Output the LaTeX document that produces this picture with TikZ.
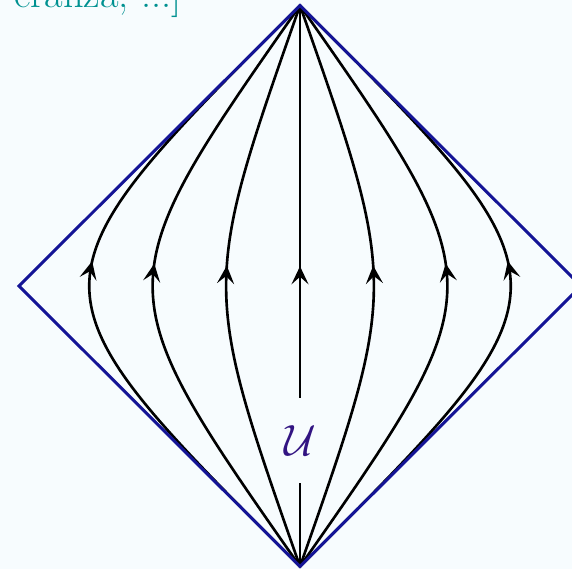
\documentclass[tikz,border=0pt]{standalone}
\usetikzlibrary{arrows.meta, decorations.markings}
\definecolor{bgpaper}{RGB}{247,252,254}
\definecolor{edgeblue}{RGB}{20,20,150}
\definecolor{labelteal}{RGB}{0,145,145}
\definecolor{labelviolet}{RGB}{50,20,130}

\begin{document}
\begin{tikzpicture}[
  flow/.style={line width=1.5pt, postaction={decorate},
    decoration={markings, mark=at position #1 with
      {\arrow{Stealth[length=3.6mm, width=3.4mm, inset=1.5mm]}}}},
  flow/.default=0.535,
  rim/.style={draw=edgeblue, line width=1.7pt, line join=miter}]
\fill[bgpaper] (-6.0,-5.66) rectangle (5.44,5.72);
\useasboundingbox (-6.0,-5.66) rectangle (5.44,5.72);
\coordinate (T) at (0,5.61);
\coordinate (B) at (0,-5.61);
\coordinate (L) at (-5.62,0);
\coordinate (R) at (5.62,0);
% flow lines
\foreach \c in {5.62,3.93,1.97}{
  \draw[flow] (B) .. controls (-\c,0) and (-\c,0) .. (T);
  \draw[flow] (B) .. controls (\c,0) and (\c,0) .. (T);
}
\node[fill=bgpaper, inner sep=0pt, minimum height=1.7cm, text=labelviolet,
      font=\fontsize{36}{36}\selectfont] (U) at (0,-3.09) {$\mathcal{U}$};
\draw[line width=1.5pt] (B) -- (U);
\draw[flow=0.335] (U) -- (T);
\draw[rim] (B) -- (L) -- (T) -- (R) -- cycle;
\node[anchor=base east, inner sep=0pt, text=labelteal,
      font=\fontsize{23}{28}\selectfont] (cite) at (-2.36,5.56) {eranza, ...]};
\end{tikzpicture}
\end{document}
